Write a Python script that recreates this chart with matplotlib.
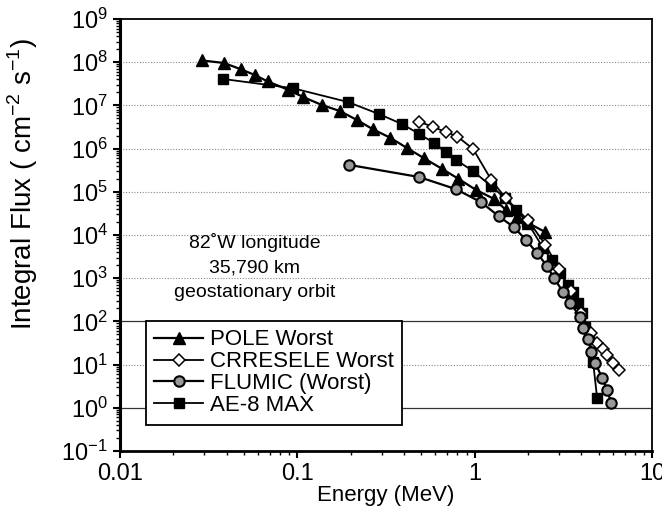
import numpy as np
import matplotlib
matplotlib.use("Agg")
import matplotlib.pyplot as plt
from matplotlib.ticker import LogLocator, FuncFormatter, NullFormatter

plt.rcParams['font.family'] = ['Liberation Sans', 'DejaVu Sans']
plt.rcParams['mathtext.fontset'] = 'custom'
plt.rcParams['mathtext.rm'] = 'Liberation Sans'

# POLE Worst
pole_e = [0.029, 0.0386, 0.048, 0.058, 0.068, 0.089, 0.108, 0.138, 0.174, 0.217, 0.267,
          0.333, 0.416, 0.518, 0.655, 0.81, 1.02, 1.29, 1.50, 1.73, 2.0, 2.49]
pole_f = [1.1e8, 9.6e7, 6.9e7, 5.0e7, 3.6e7, 2.3e7, 1.56e7, 1.02e7, 7.4e6, 4.6e6, 2.8e6,
          1.8e6, 1.03e6, 6.0e5, 3.4e5, 2.0e5, 1.1e5, 6.8e4, 3.8e4, 2.6e4, 1.9e4, 1.18e4]

# CRRESELE Worst
crr_e = [0.486, 0.582, 0.69, 0.80, 0.98, 1.24, 1.5, 2.0, 2.5, 3.0, 3.5, 4.0, 4.5,
         4.9, 5.3, 5.6, 6.0, 6.5]
crr_f = [4.2e6, 3.2e6, 2.4e6, 1.9e6, 9.8e5, 1.9e5, 7.0e4, 2.2e4, 6.0e3, 1.6e3, 5.0e2,
         1.6e2, 55, 32, 23, 17, 11, 7.5]

# FLUMIC (Worst)
flu_e = [0.196, 0.486, 0.785, 1.09, 1.37, 1.67, 1.95, 2.25, 2.56, 2.80, 3.15, 3.45,
         3.93, 4.08, 4.36, 4.54, 4.78, 5.23, 5.58, 5.88]
flu_f = [4.2e5, 2.2e5, 1.15e5, 5.7e4, 2.7e4, 1.5e4, 7.6e3, 3.8e3, 1.9e3, 1.0e3, 4.8e2,
         2.7e2, 1.27e2, 71, 39, 19.5, 11, 4.9, 2.6, 1.3]

# AE-8 MAX
ae8_e = [0.0381, 0.0946, 0.193, 0.289, 0.39, 0.486, 0.59, 0.69, 0.785, 0.98, 1.24, 1.48,
         1.71, 1.98, 2.43, 2.73, 3.03, 3.36, 3.59, 3.83, 4.03, 4.2, 4.42, 4.65, 4.9]
ae8_f = [4.1e7, 2.5e7, 1.2e7, 6.3e6, 3.7e6, 2.2e6, 1.35e6, 8.4e5, 5.5e5, 3.0e5, 1.35e5,
         7.2e4, 3.8e4, 2.0e4, 5.0e3, 2.6e3, 1.3e3, 6.9e2, 4.8e2, 2.7e2, 1.56e2, 74, 49,
         11.5, 1.7]

fig = plt.figure(figsize=(6.62, 5.21), dpi=100)
ax = fig.add_axes([0.181, 0.1344, 0.804, 0.8291])

ax.set_xscale('log')
ax.set_yscale('log')
ax.set_xlim(0.01, 10)
ax.set_ylim(1e-1, 1e9)

# grid lines
for v in [1e1, 1e3, 1e4, 1e5, 1e6, 1e7, 1e8]:
    ax.axhline(v, color='#888888', lw=0.8, ls=(0, (1, 1.5)), zorder=0)
for v in [1e0, 1e2]:
    ax.axhline(v, color='#333333', lw=0.9, zorder=0)

ax.plot(pole_e, pole_f, '-^', color='black', lw=1.6, ms=9, mfc='black', mec='black',
        label='POLE Worst', zorder=3)
ax.plot(crr_e, crr_f, '-D', color='black', lw=1.3, ms=6.5, mfc='white', mec='black',
        mew=1.1, label='CRRESELE Worst', zorder=4)
ax.plot(flu_e, flu_f, '-o', color='black', lw=1.6, ms=7.5, mfc='#999999', mec='black',
        mew=1.5, label='FLUMIC (Worst)', zorder=5)
ax.plot(ae8_e, ae8_f, '-s', color='black', lw=1.3, ms=7.5, mfc='black', mec='black',
        label='AE-8 MAX', zorder=3)

ax.xaxis.set_major_locator(LogLocator(base=10, numticks=10))
ax.xaxis.set_minor_locator(LogLocator(base=10, subs=np.arange(2, 10), numticks=20))
ax.xaxis.set_major_formatter(FuncFormatter(lambda v, p: '%g' % v))
ax.xaxis.set_minor_formatter(NullFormatter())
ax.yaxis.set_major_locator(LogLocator(base=10, numticks=20))
ax.yaxis.set_minor_locator(LogLocator(base=10, subs=np.arange(2, 10), numticks=30))
ax.yaxis.set_minor_formatter(NullFormatter())

ax.tick_params(which='major', direction='out', length=5, width=1.5, labelsize=17)
ax.tick_params(which='minor', direction='out', length=3, width=1.0)
for s in ax.spines.values():
    s.set_linewidth(1.3)
ax.spines['left'].set_linewidth(2.2)
ax.spines['bottom'].set_linewidth(2.0)

ax.set_xlabel('Energy (MeV)', fontsize=16)
ax.xaxis.set_label_coords(0.5, -0.078)
ax.set_ylabel('Integral Flux ( cm$^{-2}$ s$^{-1}$)', fontsize=20)
ax.yaxis.set_label_coords(-0.15, 0.618)

ax.text(0.0577, 1.1e4, '82˚W longitude\n35,790 km\ngeostationary orbit',
        ha='center', va='top', fontsize=14, linespacing=1.55)

leg = ax.legend(loc='upper left', bbox_to_anchor=(0.049, 0.301), fontsize=16,
                frameon=True, fancybox=False, edgecolor='black', framealpha=1,
                handlelength=2.2, handletextpad=0.3, borderpad=0.38, labelspacing=0.04,
                borderaxespad=0)
leg.get_frame().set_linewidth(1.3)

fig.savefig('out.png', dpi=100)
